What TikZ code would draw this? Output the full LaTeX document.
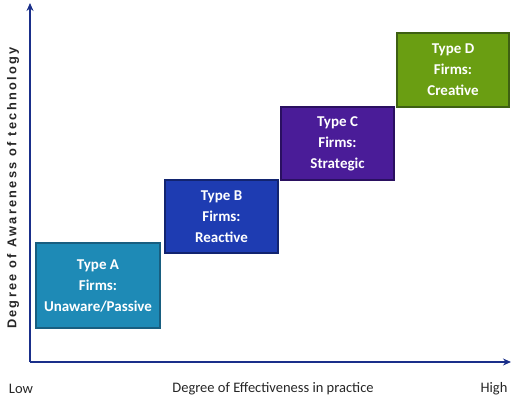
\documentclass[tikz,border=0pt]{standalone}
\usepackage{fontspec}
\setmainfont{Carlito}
\newfontfamily\axisfont[LetterSpace=18]{Liberation Sans}
\usetikzlibrary{arrows.meta,positioning}
\definecolor{axisblue}{HTML}{1A2F8A}
\definecolor{typeAfill}{HTML}{1E8AB6}
\definecolor{typeAline}{HTML}{185E80}
\definecolor{typeBfill}{HTML}{1E3CB2}
\definecolor{typeBline}{HTML}{122470}
\definecolor{typeCfill}{HTML}{4A1C98}
\definecolor{typeCline}{HTML}{2A1060}
\definecolor{typeDfill}{HTML}{6A9E12}
\definecolor{typeDline}{HTML}{3E6012}
\tikzset{
    firmbox/.style={draw=#1line,fill=#1fill,line width=1.6pt,inner sep=0pt,
        text=white,align=center,font=\fontsize{15}{21}\selectfont\bfseries},
    axisline/.style={draw=axisblue,line width=1.8pt,-{Stealth[length=8pt,width=7pt]}},
    ticklabel/.style={font=\fontsize{14.5}{16}\selectfont,text=black!85}
}

\begin{document}
\begin{tikzpicture}[x=1pt,y=-1pt]
        \useasboundingbox (0,0) rectangle (511,399);
        \coordinate (origin) at (30,362);
        \coordinate (ytip) at (30,3);
        \coordinate (xtip) at (511,362);
        \draw[axisline] (origin) -- (ytip);
        \draw[axisline] (origin) -- (xtip);

        \node[firmbox=typeA,minimum width=124pt,minimum height=85pt] (typeA) at (98,285.5)
            {Type A\\Firms:\\Unaware/Passive};
        \node[firmbox=typeB,minimum width=113pt,minimum height=73pt] (typeB) at (221.5,216.5)
            {Type B\\Firms:\\Reactive};
        \node[firmbox=typeC,minimum width=113pt,minimum height=73pt] (typeC) at (337.5,143.5)
            {Type C\\Firms:\\Strategic};
        \node[firmbox=typeD,minimum width=112pt,minimum height=74pt] (typeD) at (453,70)
            {Type D\\Firms:\\Creative};

        \node[rotate=90,font=\axisfont\fontsize{12.8}{14}\selectfont\bfseries,text=black!85]
            (ylabel) at (13,188) {Degree of Awareness of technology};
        \node[ticklabel] (low) at (21,389) {Low};
        \node[ticklabel] (xlabel) at (273,389) {Degree of Effectiveness in practice};
        \node[ticklabel] (high) at (494,389) {High};
    \end{tikzpicture}
\end{document}
